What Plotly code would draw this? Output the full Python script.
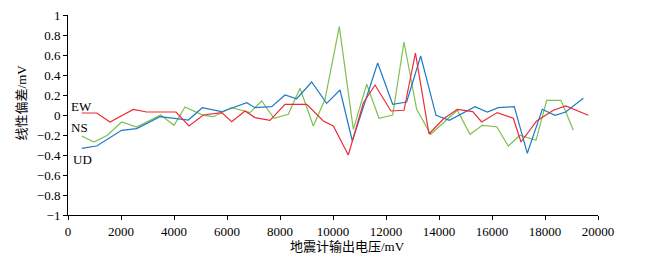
import plotly.graph_objects as go

# EW (red)
ew_x = [517, 1083, 1585, 2465, 2970, 4075, 4566, 5106, 5800, 6177, 6679, 7057, 7623, 8189, 9006,
        9635, 10012, 10578, 11145, 11585, 12189, 12679, 13110, 13623, 14162, 14691, 15272, 15611,
        16200, 16804, 17094, 17686, 18313, 18781, 19635]
ew_y = [0.02, 0.02, -0.07, 0.055, 0.03, 0.03, -0.11, 0.0, 0.024, -0.066, 0.04, -0.026, -0.053, 0.107, 0.107,
        -0.06, -0.11, -0.40, 0.12, 0.30, 0.04, 0.047, 0.62, -0.19, -0.04, 0.057, 0.034, -0.07,
        0.024, -0.033, -0.27, -0.06, 0.047, 0.09, -0.003]

# NS (green)
ns_x = [517, 981, 1484, 2026, 2592, 3497, 4000, 4415, 5106, 5484, 6177, 6868, 7309, 7774, 8314, 8755,
        9257, 9698, 10238, 10767, 11271, 11736, 12252, 12679, 13157, 13686, 14691, 15170, 15635,
        16177, 16616, 17057, 17660, 18064, 18604, 19069]
ns_y = [-0.21, -0.27, -0.203, -0.07, -0.12, 0.0, -0.103, 0.08, -0.003, -0.017, 0.073, 0.024, 0.14, -0.033, 0.007, 0.267,
        -0.11, 0.157, 0.884, -0.143, 0.307, -0.033, 0.0, 0.73, 0.057, -0.193, 0.047, -0.193, -0.103,
        -0.117, -0.31, -0.203, -0.253, 0.147, 0.147, -0.153]

# UD (blue)
ud_x = [517, 1083, 2026, 2592, 3472, 4000, 4541, 5068, 5800, 6743, 7057, 7687, 8189, 8629, 9195,
        9761, 10264, 10729, 11686, 12252, 12780, 13309, 13887, 14389, 15358, 15823, 16238, 16842,
        17332, 17898, 18377, 18781, 19446]
ud_y = [-0.333, -0.31, -0.153, -0.136, -0.017, -0.033, -0.05, 0.073, 0.033, 0.123, 0.073, 0.083, 0.2, 0.163, 0.33,
        0.117, 0.25, -0.26, 0.52, 0.107, 0.13, 0.59, -0.003, -0.053, 0.083, 0.03, 0.073, 0.083,
        -0.383, 0.057, -0.003, 0.03, 0.167]

series_names = ["EW", "NS", "UD"]
x_ticks = [0, 2000, 4000, 6000, 8000, 10000, 12000, 14000, 16000, 18000, 20000]
x_tick_text = ["0", "2000", "4000", "6000", "8000", "10000", "12000", "14000", "16000", "18000", "20000"]
y_ticks = [-1, -0.8, -0.6, -0.4, -0.2, 0, 0.2, 0.4, 0.6, 0.8, 1]
y_tick_text = ["−1", "−0.8", "−0.6", "−0.4", "−0.2", "0", "0.2", "0.4", "0.6", "0.8", "1"]
x_title = "地震计输出电压/mV"
y_title = "线性偏差/mV"

serif = "Liberation Serif, Times New Roman, Noto Sans CJK SC"

fig = go.Figure()
fig.add_trace(go.Scatter(x=ns_x, y=ns_y, mode="lines", name="NS",
                         line=dict(color="#7cc04f", width=1.2)))
fig.add_trace(go.Scatter(x=ud_x, y=ud_y, mode="lines", name="UD",
                         line=dict(color="#1f7ac6", width=1.2)))
fig.add_trace(go.Scatter(x=ew_x, y=ew_y, mode="lines", name="EW",
                         line=dict(color="#ec2a37", width=1.2)))

# series labels
label_pos = {"EW": (20, 0.09), "NS": (20, -0.12), "UD": (130, -0.445)}
for n in series_names:
    lx, ly = label_pos[n]
    fig.add_annotation(x=lx, y=ly, text=n, showarrow=False, xanchor="left",
                       font=dict(family=serif, size=13, color="black"))

# axis titles
fig.add_annotation(xref="paper", yref="paper", x=0.527, y=-0.16, text=x_title,
                   showarrow=False, xanchor="center", yanchor="middle",
                   font=dict(family=serif, size=13, color="black"))
fig.add_annotation(xref="paper", yref="paper", x=-0.087, y=0.5625, text=y_title,
                   showarrow=False, xanchor="center", yanchor="middle", textangle=-90,
                   font=dict(family=serif, size=13, color="black"))

fig.update_layout(
    width=643, height=254,
    margin=dict(l=60, r=53, t=7, b=47),
    paper_bgcolor="white", plot_bgcolor="white",
    showlegend=False,
    font=dict(family=serif, size=13, color="black"),
)
fig.update_xaxes(range=[0, 20000], tickvals=x_ticks, ticktext=x_tick_text, ticks="outside", ticklen=4,
                 tickwidth=1, tickcolor="black", showline=True, linecolor="black",
                 linewidth=1, showgrid=False, zeroline=False, automargin=False,
                 ticklabeloverflow="allow",
                 tickfont=dict(family=serif, size=13))
fig.update_yaxes(range=[-1, 1], tickvals=y_ticks, ticktext=y_tick_text, ticks="outside",
                 ticklen=4, tickwidth=1, tickcolor="black", showline=True, linecolor="black",
                 linewidth=1, showgrid=False, zeroline=False, automargin=False,
                 ticklabeloverflow="allow",
                 tickfont=dict(family=serif, size=13))

fig.write_html("out.html")
